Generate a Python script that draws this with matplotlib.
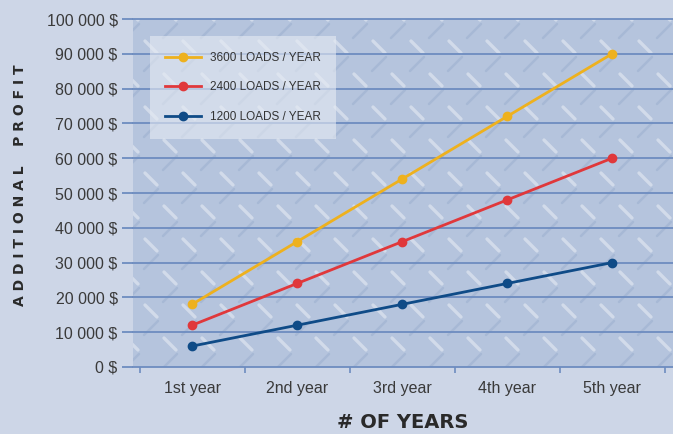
import numpy as np
import matplotlib
matplotlib.use("Agg")
import matplotlib.pyplot as plt
from matplotlib.collections import LineCollection
from matplotlib.ticker import FixedLocator, FuncFormatter

years = ["1st year", "2nd year", "3rd year", "4th year", "5th year"]
loads_3600 = [18000, 36000, 54000, 72000, 90000]
loads_2400 = [12000, 24000, 36000, 48000, 60000]
loads_1200 = [6000, 12000, 18000, 24000, 30000]
series_labels = ["3600 LOADS / YEAR", "2400 LOADS / YEAR", "1200 LOADS / YEAR"]
y_ticks = list(range(0, 100001, 10000))

plt.rcParams['font.family'] = ['Liberation Sans', 'DejaVu Sans']

fig = plt.figure(figsize=(6.73, 4.34), dpi=100, facecolor="#cdd6e7")
ax = fig.add_axes([133 / 673, 67 / 434, 540 / 673, 348 / 434])
ax.set_facecolor("#b5c4dd")

# diamond plate texture (decoration only)
W, H = 540.0, 348.0
bright, faint = [], []
for row, yy in enumerate(np.arange(-10, H + 20, 33)):
    shift = 19 if row % 2 else 0
    for xx in np.arange(-20 + shift, W + 20, 38):
        bright.append([((xx - 6) / W, (yy + 6) / H), ((xx + 6) / W, (yy - 6) / H)])
        fx, fy = xx + 19, yy + 16
        faint.append([((fx - 7) / W, (fy - 7) / H), ((fx + 7) / W, (fy + 7) / H)])
ax.add_collection(LineCollection(faint, colors="#97abcc", linewidths=1.8, alpha=0.45,
                                 transform=ax.transAxes, zorder=0.5, capstyle="round"))
ax.add_collection(LineCollection(bright, colors="white", linewidths=2.4, alpha=0.4,
                                 transform=ax.transAxes, zorder=0.6, capstyle="round"))

x = np.arange(len(years))
ax.plot(x, loads_3600, color="#eeb11e", lw=2, marker="o", ms=6, label=series_labels[0], zorder=3)
ax.plot(x, loads_2400, color="#e0383b", lw=2, marker="o", ms=6, label=series_labels[1], zorder=3)
ax.plot(x, loads_1200, color="#0f4b87", lw=2, marker="o", ms=6, label=series_labels[2], zorder=3)

ax.set_xlim(-0.562, 4.58)
ax.set_ylim(0, 100000)
ax.set_yticks(y_ticks)
ax.yaxis.set_major_formatter(FuncFormatter(lambda v, p: f"{int(v):,} $".replace(",", " ")))
ax.grid(axis="y", color="#6d8cc0", lw=1.3, zorder=1)
for gl in ax.get_ygridlines():
    gl.set_clip_on(False)
ax.set_xticks(x)
ax.set_xticklabels(years)
ax.xaxis.set_minor_locator(FixedLocator([-0.5, 0.5, 1.5, 2.5, 3.5, 4.5]))
ax.tick_params(axis="x", which="major", length=0, pad=10, labelsize=11.5, labelcolor="#3a3a3a")
ax.tick_params(axis="x", which="minor", length=4, width=1.2, color="#6d8cc0")
ax.tick_params(axis="y", length=8, width=1.3, color="#6d8cc0", pad=3, labelsize=11.5, labelcolor="#3a3a3a")
for s in ax.spines.values():
    s.set_visible(False)

ax.set_xlabel("# OF YEARS", fontsize=14, fontweight="bold", color="#2a2a2a",
              family=["DejaVu Sans"], labelpad=12)
fig.text(0.03, 0.574, "A D D I T I O N A L    P R O F I T", rotation=90, fontsize=10,
         fontweight="bold", color="#2a2a2a", ha="center", va="center", family=["DejaVu Sans"])

leg = ax.legend(loc="upper left", bbox_to_anchor=(0.031, 0.95), fontsize=8.5, frameon=True,
                fancybox=False, handlelength=3.0, labelspacing=1.5, borderpad=1.3,
                borderaxespad=0, labelcolor="#333333")
leg.get_frame().set_facecolor("#e6ebf3")
leg.get_frame().set_alpha(0.6)
leg.get_frame().set_edgecolor("none")

fig.savefig("out.png", dpi=100, facecolor=fig.get_facecolor())
